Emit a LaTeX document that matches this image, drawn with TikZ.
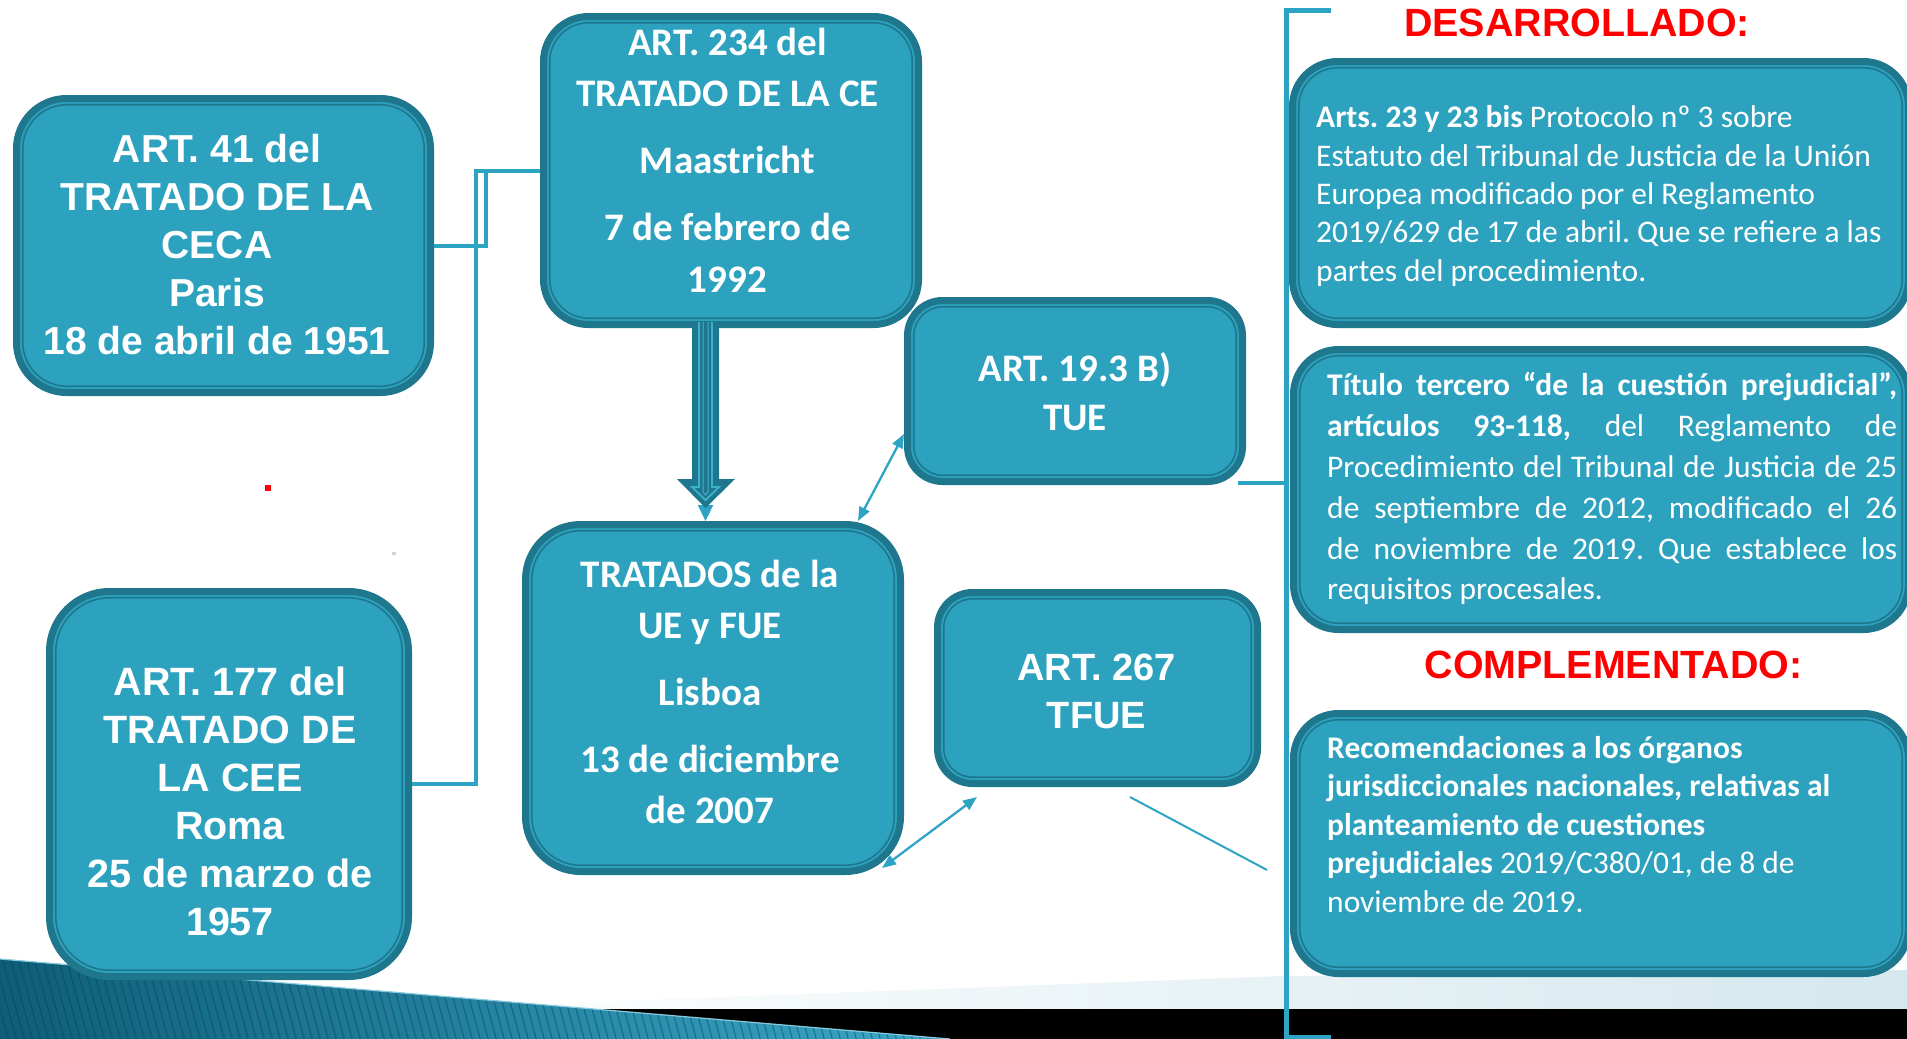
\documentclass[tikz,border=0pt]{standalone}
\usepackage{fontspec}
\setmainfont{Carlito}
\newfontfamily\arialfont{Liberation Sans}
\usetikzlibrary{arrows.meta}
\definecolor{boxfill}{HTML}{2DA2BF}
\definecolor{boxdark}{HTML}{1F778E}
\definecolor{linecol}{HTML}{2DA4C4}
\definecolor{titlered}{HTML}{FF0000}
\definecolor{bandlight}{HTML}{D5E8EE}
\definecolor{wedgedark}{HTML}{0E5E78}
\definecolor{wedgelight}{HTML}{3AA8C8}
\definecolor{arrowlight}{HTML}{3DB0CC}
\newcommand\mytop{\rule{0pt}{40pt}}
\newcommand\mybot{\rule[-40pt]{0pt}{40pt}}
\newcommand\mytopS{\rule{0pt}{30pt}}
\frenchspacing
\begin{document}
\begin{tikzpicture}[x=1pt,y=-1pt,
  tbox/.style={draw=boxdark, fill=boxfill, line width=7pt, rectangle, inner sep=0pt},
  innerline/.style={draw=boxdark, line width=1.6pt},
  conn/.style={draw=linecol, line width=4pt},
  thinarrow/.style={draw=linecol, line width=2.3pt, <->, >={Triangle[length=14pt,width=11pt]}},
  txt/.style={text=white, inner sep=0pt, align=center},
  sidetxt/.style={text=white, inner sep=0pt, align=left, anchor=north west},
  redtitle/.style={text=titlered, inner sep=0pt, anchor=base, font=\arialfont\bfseries\fontsize{39.4}{46}\selectfont}
]
\useasboundingbox (0,0) rectangle (1907,1039);

% bottom decoration
\shade[left color=white, right color=bandlight] (400,1009) -- (1283,976) -- (1907,970) -- (1907,1010) -- cycle;
\fill[black] (500,1009) rectangle (1907,1039);
\begin{scope}
  \clip (0,959) -- (950,1039) -- (0,1039) -- cycle;
  \shade[left color=wedgedark, right color=wedgelight] (0,950) rectangle (960,1039);
  \foreach \i in {-40,...,125} \draw[wedgedark!70!black, opacity=0.45, line width=1.2pt] (\i*8,950) -- ++(27,99);
\end{scope}
\draw[wedgelight!60!white, line width=1.2pt] (0,959) -- (950,1039);

% red dot
\fill[red] (265,485) rectangle (271,491);
\fill[gray!35] (392,552) rectangle (396,555);

% boxes
\node[tbox, rounded corners=50pt, minimum width=414pt, minimum height=294pt] (b1) at (223.5,245.5) {};
\node[tbox, rounded corners=45pt, minimum width=375pt, minimum height=308pt] (b2) at (731,170.5) {};
\node[tbox, rounded corners=60pt, minimum width=359pt, minimum height=385pt] (b3) at (229,784) {};
\node[tbox, rounded corners=55pt, minimum width=375pt, minimum height=347pt] (b4) at (713,698) {};
\node[tbox, rounded corners=35pt, minimum width=335pt, minimum height=181pt] (b5) at (1075,391) {};
\node[tbox, rounded corners=35pt, minimum width=320pt, minimum height=191pt] (b6) at (1097.5,688) {};

% connectors (left)
\coordinate (e1) at (486,0);
\coordinate (e2) at (476,0);
\draw[conn] (b1.east) -| (e1 |- b2.west) -- (b2.west);
\draw[conn] (b3.east) -| (e2 |- b2.west) -- (b2.west);

% bracket
\coordinate (brT) at (1286,10);
\coordinate (brB) at (1286,1037);
\coordinate (tkT) at (1331,10);
\coordinate (tkB) at (1331,1037);
\draw[linecol, line width=5pt] (tkT) -- (brT) -- (brB) -- (tkB);
\coordinate (c5) at ([shift={(-8,-2)}]b5.south east);
\draw[conn] (c5) -- (c5 -| brT);

\node[tbox, rounded corners=45pt, minimum width=616pt, minimum height=263pt] (b7) at (1600.5,193) {};
\node[tbox, rounded corners=45pt, minimum width=615pt, minimum height=280pt] (b8) at (1601,489.5) {};
\node[tbox, rounded corners=45pt, minimum width=615pt, minimum height=260pt] (b9) at (1601,843.5) {};

\foreach \bn/\rad in {b1/44,b2/39,b3/54,b4/49,b5/29,b6/29,b7/39,b8/39,b9/39}
  \draw[innerline, rounded corners=\rad pt] ([shift={(9.75,9.75)}]\bn.north west) rectangle ([shift={(-9.75,-9.75)}]\bn.south east);

% arrows
\coordinate (ax) at (705.5,0);
\draw[linecol, line width=2.3pt, -{Triangle[length=16pt,width=15pt]}] (ax |- b2.south) -- (ax |- b4.north);
\fill[boxdark] (692,322) -- (719,322) -- (719,479) -- (735,479) -- (705.5,508) -- (677,479) -- (692,479) -- cycle;
\draw[arrowlight, line width=1.8pt] (699,322) -- (699,487) -- (692,487) -- (705.5,500) -- (719,487) -- (712,487) -- (712,322);
\draw[arrowlight, line width=1pt] (703,322) -- (703,492) -- (705.5,495) -- (708,492) -- (708,322);

\draw[thinarrow] ([shift={(-46,0)}]b4.north east) -- ([shift={(0,43)}]b5.west);
\draw[thinarrow] ([shift={(-22,-7)}]b4.south east) -- ([shift={(43,10)}]b6.south west);
\coordinate (tailend) at (1267,870);
\draw[linecol, line width=2pt] ([shift={(196,10)}]b6.south west) -- (tailend);

% texts
\node[txt, font=\arialfont\bfseries\fontsize{39}{48}\selectfont] (t1) at (217,258.5)
  {\mytop ART. 41 del\\TRATADO DE LA\\CECA\\Paris\\18 de abril de 1951\mybot};
\node[txt, font=\bfseries\fontsize{39}{51.5}\selectfont] (t2) at (727.5,173.5)
  {\mytop ART. 234 del\\TRATADO DE LA CE\\[15.5pt]Maastricht\\[15.5pt]7 de febrero de\\1992\mybot};
\node[txt, font=\arialfont\bfseries\fontsize{39.5}{48}\selectfont] (t3) at (230,815)
  {\mytop ART. 177 del\\TRATADO DE\\LA CEE\\Roma\\25 de marzo de\\1957\mybot};
\node[txt, font=\bfseries\fontsize{39}{51}\selectfont] (t4) at (710,705.5)
  {\mytop TRATADOS de la\\UE y FUE\\[16pt]Lisboa\\[16pt]13 de diciembre\\de 2007\mybot};
\node[txt, font=\bfseries\fontsize{39}{49}\selectfont] (t5) at (1075,405.5)
  {\mytop ART. 19.3 B)\\TUE\mybot};
\node[txt, font=\arialfont\bfseries\fontsize{38}{48}\selectfont] (t6) at (1096.5,704)
  {\mytop ART. 267\\TFUE\mybot};

\node[sidetxt, font=\fontsize{31.5}{38.3}\selectfont] (t7) at (1316,97.7)
  {\mytopS\textbf{Arts. 23 y 23 bis} Protocolo nº 3 sobre\\Estatuto del Tribunal de Justicia de la Unión\\Europea modificado por el Reglamento\\2019/629 de 17 de abril. Que se refiere a las\\partes del procedimiento.};
\node[sidetxt, font=\fontsize{31.5}{40.8}\selectfont] (t8) at (1327,365.7)
  {\mytopS\makebox[570pt][s]{\textbf{Título tercero “de la cuestión prejudicial”,}}\\
   \makebox[570pt][s]{\textbf{artículos 93-118,} del Reglamento de}\\
   \makebox[570pt][s]{Procedimiento del Tribunal de Justicia de 25}\\
   \makebox[570pt][s]{de septiembre de 2012, modificado el 26}\\
   \makebox[570pt][s]{de noviembre de 2019. Que establece los}\\
   requisitos procesales.};
\node[sidetxt, font=\fontsize{31.5}{38.5}\selectfont] (t9) at (1327,728)
  {\mytopS\textbf{Recomendaciones a los órganos}\\\textbf{jurisdiccionales nacionales, relativas al}\\\textbf{planteamiento de cuestiones}\\\textbf{prejudiciales} 2019/C380/01, de 8 de\\noviembre de 2019.};

\node[redtitle] (h1) at (1577,36.7) {DESARROLLADO:};
\node[redtitle] (h2) at (1613.5,678) {COMPLEMENTADO:};
\end{tikzpicture}
\end{document}
